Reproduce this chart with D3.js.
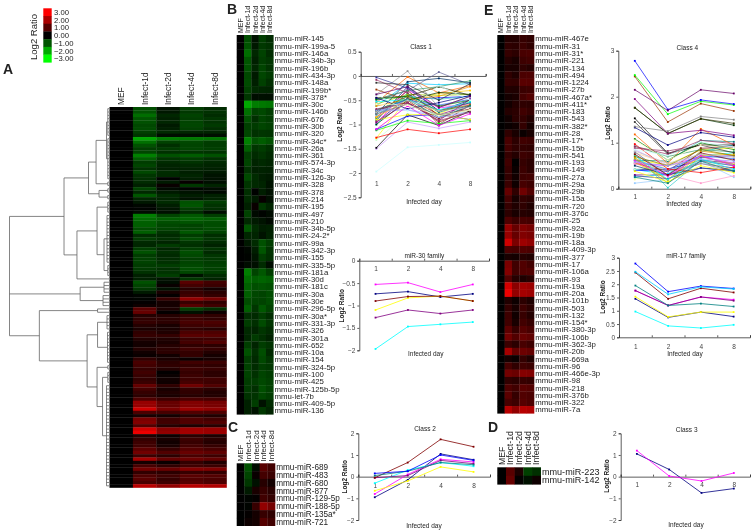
<!DOCTYPE html>
<html>
<head>
<meta charset="utf-8">
<script src="https://cdn.jsdelivr.net/npm/d3@7"></script>
<style>
	html, body { margin: 0; padding: 0; background: #fff; }
	svg { display: block; font-family: "Liberation Sans", Arial, sans-serif; filter: blur(0.35px); }
	text { fill: #222; }
	.axis path, .axis line { stroke: #333; stroke-width: 0.8; }
	.axis text { font-size: 6.5px; fill: #444; }
</style>
</head>
<body>
<svg id="chart" width="754" height="531"></svg>
<script>
// columns of every heatmap, MEF is the baseline (always 0)
const heatColumns = ["MEF", "Infect-1d", "Infect-2d", "Infect-4d", "Infect-8d"];
const infectedDays = ["1", "2", "4", "8"];
const legendValues = [3, 2, 1, 0, -1, -2, -3];

// Class 1 (panel B), down-regulated
const classOneNames = ["mmu-miR-145","mmu-miR-199a-5","mmu-miR-146a","mmu-miR-34b-3p","mmu-miR-196b","mmu-miR-434-3p","mmu-miR-148a","mmu-miR-199b*","mmu-miR-378*","mmu-miR-30c","mmu-miR-146b","mmu-miR-676","mmu-miR-30b","mmu-miR-320","mmu-miR-34c*","mmu-miR-26a","mmu-miR-361","mmu-miR-574-3p","mmu-miR-34c","mmu-miR-126-3p","mmu-miR-328","mmu-miR-378","mmu-miR-214","mmu-miR-195","mmu-miR-497","mmu-miR-210","mmu-miR-34b-5p","mmu-miR-24-2*","mmu-miR-99a","mmu-miR-342-3p","mmu-miR-155","mmu-miR-335-5p","mmu-miR-181a","mmu-miR-30d","mmu-miR-181c","mmu-miR-30a","mmu-miR-30e","mmu-miR-296-5p","mmu-miR-30a*","mmu-miR-331-3p","mmu-miR-326","mmu-miR-301a","mmu-miR-652","mmu-miR-10a","mmu-miR-154","mmu-miR-324-5p","mmu-miR-100","mmu-miR-425","mmu-miR-125b-5p","mmu-let-7b","mmu-miR-409-5p","mmu-miR-136"];
const classOneValues = [
	[-0.92,-0.22,-0.72,-0.5],[-0.98,-0.28,-0.66,-0.58],[-1.28,-0.46,-0.78,-0.52],[-1,-0.38,-0.72,-0.62],
	[-0.95,-0.45,-0.8,-0.6],[-0.85,-0.3,-0.82,-0.68],[-0.88,-0.36,-0.75,-0.55],[-0.75,-0.48,-0.45,-0.42],
	[-0.62,-0.15,-0.18,-0.16],[-1.97,-1.47,-1.42,-1.37],[-1.32,-0.78,-0.85,-0.72],[-0.95,-0.55,-0.8,-0.7],
	[-0.74,-0.69,-0.81,-0.74],[-0.82,-0.58,-0.62,-0.6],[-1.5,-0.95,-1.08,-0.95],[-1.1,-0.62,-0.7,-0.58],
	[-0.72,-0.5,-0.6,-0.48],[-0.8,-0.42,-0.48,-0.42],[-0.58,-0.38,-0.4,-0.38],[-0.85,-0.5,-0.36,-0.3],
	[-0.62,-0.48,-0.42,-0.22],[-0.55,-0.02,-0.35,-0.2],[-0.5,-0.3,0.08,-0.18],[-0.38,0.1,-0.65,-0.42],
	[-0.78,-0.12,-0.05,-0.14],[-0.48,-0.3,-0.22,-0.1],[-1,-0.5,-0.34,-0.38],[-0.45,-0.42,-0.22,-0.4],
	[-0.28,-0.5,-0.95,-0.72],[-0.08,-0.35,-1,-0.6],[-0.03,-0.25,-0.72,-0.55],[-0.14,-0.18,-0.5,-0.16],
	[-1.48,-0.8,-1.02,-0.72],[-1.27,-1.1,-1.18,-1.1],[-1.12,-0.92,-0.98,-0.92],[-1.1,-0.83,-0.79,-0.9],
	[-0.9,-0.8,-0.79,-0.9],[-1.1,-0.62,-1.02,-0.78],[-0.53,-0.49,-0.7,-0.53],[-0.7,-0.55,-0.88,-0.62],
	[-0.48,-0.42,-0.62,-0.5],[-0.45,-0.68,-0.55,-0.4],[-0.72,-0.42,-0.72,-0.6],[-0.95,-0.55,-0.92,-0.48],
	[-0.7,-0.48,-0.85,-0.62],[-0.75,-0.5,-0.72,-0.65],[-0.78,-0.58,-0.8,-0.7],[-0.7,-0.7,-0.85,-0.75],
	[-0.68,-0.55,-0.92,-0.75],[-0.58,-0.6,-0.82,-0.7],[-0.38,-0.72,-0.2,-0.5],[-0.38,-0.22,-0.65,-0.42]
];

// Class 2 (panel C)
const classTwoNames = ["mmu-miR-689","mmu-miR-483","mmu-miR-680","mmu-miR-877","mmu-miR-129-5p","mmu-miR-188-5p","mmu-miR-135a*","mmu-miR-721"];
const classTwoValues = [
	[-0.95,-0.15,1.05,0.78],[-0.8,0.1,0.8,0.68],[-0.65,-0.2,0.45,0.22],[-0.3,0.3,0.65,0.48],
	[-0.05,0.05,0.75,0.6],[-0.05,0.65,1.72,1.38],[0.05,0.25,0.65,0.55],[0.15,0.25,1,0.75]
];

// Class 3 (panel D)
const classThreeNames = ["mmu-miR-223","mmu-miR-142"];
const classThreeValues = [[1.05,0.33,-0.75,-0.55],[1.2,0.03,-0.2,0.17]];

// Class 4 (panel E), up-regulated
const classFourNames = ["mmu-miR-467e","mmu-miR-31","mmu-miR-31*","mmu-miR-221","mmu-miR-134","mmu-miR-494","mmu-miR-1224","mmu-miR-27b","mmu-miR-467a*","mmu-miR-411*","mmu-miR-183","mmu-miR-543","mmu-miR-382*","mmu-miR-28","mmu-miR-17*","mmu-miR-15b","mmu-miR-541","mmu-miR-193","mmu-miR-149","mmu-miR-27a","mmu-miR-29a","mmu-miR-29b","mmu-miR-15a","mmu-miR-720","mmu-miR-376c","mmu-miR-25","mmu-miR-92a","mmu-miR-19b","mmu-miR-18a","mmu-miR-409-3p","mmu-miR-377","mmu-miR-17","mmu-miR-106a","mmu-miR-93","mmu-miR-19a","mmu-miR-20a","mmu-miR-101b","mmu-miR-503","mmu-miR-132","mmu-miR-154*","mmu-miR-380-3p","mmu-miR-106b","mmu-miR-362-3p","mmu-miR-20b","mmu-miR-669a","mmu-miR-96","mmu-miR-466e-3p","mmu-miR-98","mmu-miR-218","mmu-miR-376b","mmu-miR-322","mmu-miR-7a"];
const classFourValues = [
	[0.42,0.42,0.62,0.55],[0.55,0.5,0.7,0.55],[0.62,0.52,0.85,0.88],[0.42,0.3,0.72,0.78],
	[0.3,0.3,0.55,0.45],[0.55,0.38,0.88,0.9],[0.62,0.6,1.05,1.02],[0.4,0.38,0.68,0.72],
	[0.25,0.32,0.8,0.95],[0.22,0.42,0.55,0.52],[0.42,0.5,0.75,0.62],[0.2,0.5,0.6,0.4],
	[0.12,0.2,0.6,0.25],[0.55,0.3,0.12,0.28],[0.85,0.5,0.75,0.7],[0.78,0.55,0.6,0.55],
	[0.62,0.42,0.72,0.65],[0.75,0.02,0.62,0.5],[0.65,0.12,0.7,0.52],[0.58,0.2,0.72,0.75],
	[0.68,0.18,0.82,0.72],[1.18,0.55,1.3,0.95],[0.8,0.28,0.6,0.5],[0.62,0.38,0.55,0.38],
	[0.5,0.3,0.45,0.4],[0.92,0.7,0.85,0.8],[1.76,1.2,1.52,1.38],[1.76,1.2,1.52,1.42],
	[2.44,1.45,1.85,1.69],[0.88,0.82,0.95,0.9],[0.28,0.22,0.45,0.38],[1.45,0.75,0.95,0.78],
	[1.53,0.77,0.95,0.95],[0.97,0.43,0.35,0.47],[2.47,1.62,1.9,1.82],[2.78,1.72,1.93,1.84],
	[0.38,0.15,0.5,0.35],[0.6,0.28,0.72,0.5],[0.72,0.2,0.65,0.42],[0.75,0.3,0.78,0.62],
	[1.08,0.62,1,0.85],[1.33,0.95,1.22,1.12],[0.7,0.5,0.85,0.72],[1.95,1.2,1.27,1.16],
	[0.25,0.12,0.6,0.38],[0.82,0.55,0.75,0.68],[1.35,1.25,1.57,1.5],[0.58,0.5,0.65,0.6],
	[0.92,0.75,1.05,0.98],[1.05,0.62,0.95,0.88],[0.85,0.72,1.02,0.9],[2.15,1.7,2.15,2.07]
];

// family charts, order gives the series colour
const miR30Family = ["mmu-miR-30b","mmu-miR-30a*","mmu-miR-30a","mmu-miR-30c","mmu-miR-30d","mmu-miR-30e"];
const miR17Family = ["mmu-miR-17","mmu-miR-19b","mmu-miR-106a","mmu-miR-93","mmu-miR-92a","mmu-miR-18a","mmu-miR-20b","mmu-miR-20a","mmu-miR-19a"];

// spreadsheet series colours, they cycle over the rows of a class
const seriesColors = ["#000080","#ff00ff","#ffff00","#00ffff","#800080","#800000","#008080","#0000ff","#00ccff","#ccffff","#ccffcc","#ffff99","#99ccff","#ff99cc","#cc99ff","#ffcc99","#3366ff","#33cccc","#99cc00","#ffcc00","#ff9900","#ff6600","#666699","#969696","#003366","#339966","#003300","#333300","#993300","#993366","#333399","#333333","#000000","#ff0000","#00ff00","#0000ff","#ffff00","#ff00ff","#00ffff","#800000","#008000","#000080","#808000","#800080","#008080","#c0c0c0","#808080","#9999ff","#993366","#ffffcc","#ccffff","#660066"];

// dendrogram of panel A: dist is the merge height, rows is a run of leaves
const dendrogram = {dist: 1, children: [
	{dist: 0.452, children: [
		{dist: 0.206, children: [
			{dist: 0.13, children: [
				{dist: 0.025, children: [{dist: 0.012, rows: [0, 8]}, {dist: 0.012, rows: [9, 21]}]},
				{dist: 0.012, rows: [22, 23]}
			]},
			{dist: 0.1, children: [{dist: 0.012, rows: [24, 25]}, {dist: 0.012, rows: [26, 27]}]}
		]},
		{dist: 0.322, children: [
			{dist: 0.12, children: [
				{dist: 0.012, rows: [28, 31]},
				{dist: 0.05, children: [{dist: 0.02, rows: [32, 46]}, {dist: 0.012, rows: [47, 50]}]}
			]},
			{dist: 0.012, rows: [51, 51]}
		]}
	]},
	{dist: 0.29, children: [{dist: 0.05, rows: [52, 55]}, {dist: 0.06, rows: [56, 59]}]},
	{dist: 0.7, children: [
		{dist: 0.115, rows: [60, 61]},
		{dist: 0.22, children: [
			{dist: 0.115, children: [{dist: 0.02, rows: [62, 66]}, {dist: 0.015, rows: [67, 76]}]},
			{dist: 0.12, children: [
				{dist: 0.012, rows: [77, 78]},
				{dist: 0.065, children: [{dist: 0.012, rows: [79, 82]}, {dist: 0.025, rows: [83, 113]}]}
			]}
		]}
	]}
]};

const svg = d3.select("#chart");
const heatColor = d3.scaleLinear().domain([-3, 0, 3]).range(["#00ff00", "#000000", "#ff0000"]);

// draws one heatmap, MEF column is always 0
function heatmap(cfg) {
	const g = svg.append("g");
	const x = d3.scaleBand().domain(heatColumns).range([cfg.x0, cfg.x1]);
	const y = d3.scaleBand().domain(d3.range(cfg.values.length)).range([cfg.y0, cfg.y1]);

	const rows = g.selectAll(".row")
		.data(cfg.values)
		.enter().append("g")
		.attr("transform", (d, i) => "translate(0," + y(i) + ")");
	rows.selectAll("rect")
		.data(d => [0].concat(d))
		.enter().append("rect")
		.attr("x", (d, i) => x(heatColumns[i]))
		.attr("width", x.bandwidth() + 0.3)
		.attr("height", y.bandwidth() + 0.3)
		.attr("fill", d => heatColor(d));

	g.selectAll(".col-label")
		.data(heatColumns)
		.enter().append("text")
		.attr("transform", d => "translate(" + (x(d) + x.bandwidth() / 2 + cfg.colFont * 0.36) + "," + cfg.colBottom + ") rotate(-90)")
		.attr("font-size", cfg.colFont)
		.attr("fill", "#333")
		.text(d => d);

	if (cfg.names) {
		g.selectAll(".row-label")
			.data(cfg.names)
			.enter().append("text")
			.attr("x", cfg.x1 + 1.2)
			.attr("y", (d, i) => y(i) + y.bandwidth() / 2)
			.attr("dy", "0.36em")
			.attr("font-size", cfg.rowFont)
			.attr("fill", "#222")
			.text(d => d);
	}
	return y;
}

function lineChart(cfg) {
	const g = svg.append("g");
	const y = d3.scaleLinear().domain(cfg.domain).range([cfg.yTop, cfg.yBottom]);
	const x = d3.scalePoint().domain(infectedDays).range([cfg.x0, cfg.x1]).padding(0.5);
	const edges = d3.scaleLinear().domain([0, 4]).range([cfg.x0, cfg.x1]);
	const line = d3.line().x((d, i) => x(infectedDays[i])).y(d => y(d));

	// value axis
	g.append("g")
		.attr("class", "axis")
		.attr("transform", "translate(" + cfg.x0 + ",0)")
		.call(d3.axisLeft(y).tickValues(cfg.ticks).tickSize(2).tickPadding(2).tickFormat(d => d3.format("")(d)));

	// horizontal axis crosses at 0, ticks between the days
	g.append("g")
		.attr("class", "axis")
		.attr("transform", "translate(0," + y(0) + ")")
		.call(d3.axisTop(edges).ticks(4).tickSize(2).tickFormat(""));

	// day labels sit below or above the axis, spreadsheet style
	g.append("g")
		.attr("class", "axis")
		.attr("transform", "translate(0," + cfg.labelY + ")")
		.call(d3.axisBottom(x).tickSize(0).tickPadding(0))
		.call(a => a.select(".domain").remove());

	const series = g.selectAll(".series")
		.data(cfg.values)
		.enter().append("g")
		.attr("stroke", (d, i) => cfg.colors[i % cfg.colors.length])
		.attr("fill", (d, i) => cfg.colors[i % cfg.colors.length]);
	series.append("path")
		.attr("d", d => line(d))
		.attr("fill", "none")
		.attr("stroke-width", cfg.lineWidth || 0.8);
	series.selectAll("rect")
		.data(d => d)
		.enter().append("rect")
		.attr("x", (d, i) => x(infectedDays[i]) - 0.9)
		.attr("y", d => y(d) - 0.9)
		.attr("width", 1.8)
		.attr("height", 1.8)
		.attr("stroke", "none");

	g.append("text")
		.attr("x", cfg.titleX).attr("y", cfg.titleY)
		.attr("text-anchor", "middle").attr("dy", "0.36em")
		.attr("font-size", 6.5).attr("fill", "#444")
		.text(cfg.title);
	g.append("text")
		.attr("x", cfg.dayX).attr("y", cfg.dayY)
		.attr("text-anchor", "middle").attr("dy", "0.36em")
		.attr("font-size", 6.5).attr("fill", "#444")
		.text("Infected day");
	g.append("text")
		.attr("transform", "translate(" + cfg.ratioX + "," + cfg.ratioY + ") rotate(-90)")
		.attr("text-anchor", "middle").attr("dy", "0.36em")
		.attr("font-size", 6.5).attr("font-weight", "bold")
		.text("Log2 Ratio");
}

// ---- legend ----
const legendY = d3.scaleBand().domain(legendValues).range([8.3, 62.3]);
svg.selectAll(".legend-band")
	.data(legendValues)
	.enter().append("rect")
	.attr("x", 43.3)
	.attr("y", d => legendY(d))
	.attr("width", 8.4)
	.attr("height", legendY.bandwidth() + 0.3)
	.attr("fill", d => heatColor(d));
svg.selectAll(".legend-label")
	.data(legendValues)
	.enter().append("text")
	.attr("x", 54)
	.attr("y", d => legendY(d) + legendY.bandwidth() / 2)
	.attr("dy", "0.36em")
	.attr("font-size", 7.7)
	.attr("fill", "#333")
	.text(d => d3.format(".2f")(d));
svg.append("text")
	.attr("transform", "translate(34,37) rotate(-90)")
	.attr("text-anchor", "middle")
	.attr("dy", "0.36em")
	.attr("font-size", 9.5)
	.attr("fill", "#333")
	.text("Log2 Ratio");

// ---- panel letters ----
svg.selectAll(".panel-letter")
	.data([["A", 3, 74], ["B", 227, 14], ["C", 228, 432], ["D", 488, 432], ["E", 484, 15]])
	.enter().append("text")
	.attr("x", d => d[1])
	.attr("y", d => d[2])
	.attr("font-size", 14)
	.attr("font-weight", "bold")
	.attr("fill", "#000")
	.text(d => d[0]);

// ---- panel A, all classes in cluster order ----
const allValues = classOneValues.concat(classTwoValues, classThreeValues, classFourValues);
const rowA = heatmap({values: allValues, x0: 109.5, x1: 226.5, y0: 107, y1: 487.5, colFont: 8.4, colBottom: 105});

const distX = d3.scaleLinear().domain([0, 1]).range([109, 9.5]);
const root = d3.hierarchy(dendrogram, d => d.children || (d.rows ? d3.range(d.rows[0], d.rows[1] + 1).map(r => ({dist: 0, row: r})) : null));
root.eachAfter(n => {
	n.px = distX(n.data.dist);
	if (n.children) {
		n.py = (n.children[0].py + n.children[n.children.length - 1].py) / 2;
	} else {
		n.py = rowA(n.data.row) + rowA.bandwidth() / 2;
	}
});
svg.append("g")
	.selectAll("path")
	.data(root.descendants().filter(n => n.children))
	.enter().append("path")
	.attr("fill", "none")
	.attr("stroke", "#666")
	.attr("stroke-width", 0.8)
	.attr("d", n => "M" + n.px + "," + n.children[0].py + "V" + n.children[n.children.length - 1].py
		+ n.children.map(c => "M" + n.px + "," + c.py + "H" + c.px).join(""));

// ---- heatmaps B to E ----
heatmap({values: classOneValues, names: classOneNames, x0: 236.7, x1: 273.3, y0: 35, y1: 414.3, colFont: 7, colBottom: 33, rowFont: 7.8});
heatmap({values: classTwoValues, names: classTwoNames, x0: 236.7, x1: 275, y0: 463.3, y1: 525.7, colFont: 8, colBottom: 461.5, rowFont: 8.2});
heatmap({values: classThreeValues, names: classThreeNames, x0: 497.3, x1: 540.7, y0: 467.3, y1: 484.3, colFont: 8.7, colBottom: 465, rowFont: 9.1});
heatmap({values: classFourValues, names: classFourNames, x0: 497.3, x1: 534, y0: 35, y1: 413.3, colFont: 7, colBottom: 33, rowFont: 7.8});

// ---- line charts ----
function pick(names, allNames, allRows) {
	return names.map(n => allRows[allNames.indexOf(n)]);
}

lineChart({title: "Class 1", values: classOneValues, colors: seriesColors, domain: [0.5, -2.5], ticks: [0.5, 0, -0.5, -1, -1.5, -2, -2.5],
	x0: 360.7, x1: 485.7, yTop: 51.7, yBottom: 197.3, labelY: 181, titleX: 421, titleY: 47, dayX: 424, dayY: 202, ratioX: 340, ratioY: 125, lineWidth: 0.7});
lineChart({title: "miR-30 family", values: pick(miR30Family, classOneNames, classOneValues), colors: seriesColors, domain: [0, -2], ticks: [0, -0.5, -1, -1.5, -2],
	x0: 359.3, x1: 489, yTop: 260.7, yBottom: 350.3, labelY: 266.5, titleX: 424.3, titleY: 256, dayX: 425.7, dayY: 354, ratioX: 341.7, ratioY: 305.7});
lineChart({title: "Class 2", values: classTwoValues, colors: seriesColors, domain: [2, -2], ticks: [2, 1, 0, -1, -2],
	x0: 358.3, x1: 490, yTop: 433.3, yBottom: 520, labelY: 483, titleX: 425, titleY: 429, dayX: 424, dayY: 525.3, ratioX: 344.3, ratioY: 476.7});
lineChart({title: "Class 4", values: classFourValues, colors: seriesColors, domain: [3, 0], ticks: [3, 2, 1, 0],
	x0: 618.3, x1: 750.3, yTop: 50.7, yBottom: 188.7, labelY: 194, titleX: 687.3, titleY: 48, dayX: 684, dayY: 204, ratioX: 607.7, ratioY: 123, lineWidth: 0.7});
lineChart({title: "miR-17 family", values: pick(miR17Family, classFourNames, classFourValues), colors: seriesColors, domain: [3, 0], ticks: [3, 2.5, 2, 1.5, 1, 0.5, 0],
	x0: 619, x1: 750, yTop: 257.7, yBottom: 337.3, labelY: 344, titleX: 686, titleY: 256, dayX: 685, dayY: 354, ratioX: 603, ratioY: 297});
lineChart({title: "Class 3", values: classThreeValues, colors: seriesColors, domain: [2, -2], ticks: [2, 1, 0, -1, -2],
	x0: 620.7, x1: 750, yTop: 433.3, yBottom: 520, labelY: 482.5, titleX: 686.7, titleY: 429.3, dayX: 686, dayY: 525, ratioX: 606.7, ratioY: 476});
</script>
</body>
</html>
